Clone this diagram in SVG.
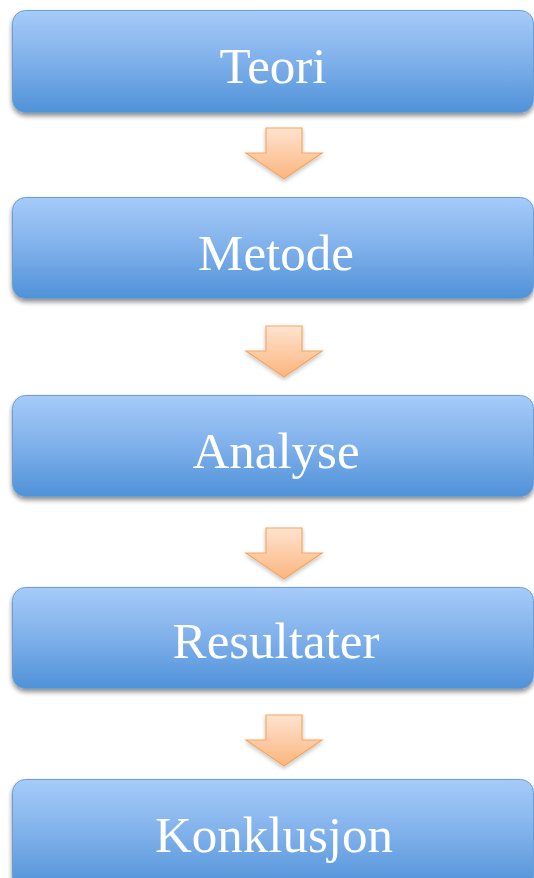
<svg xmlns="http://www.w3.org/2000/svg" width="534" height="878" viewBox="0 0 534 878">
<defs>
<linearGradient id="boxg" x1="0" y1="0" x2="0" y2="1">
<stop offset="0" stop-color="#a6cbf9"/>
<stop offset="0.5" stop-color="#7fb0ea"/>
<stop offset="1" stop-color="#4f92d8"/>
</linearGradient>
<linearGradient id="arrg" x1="0" y1="0" x2="0" y2="1">
<stop offset="0" stop-color="#fee3cf"/>
<stop offset="1" stop-color="#fbb57e"/>
</linearGradient>
<filter id="sh" x="-10%" y="-10%" width="120%" height="130%">
<feGaussianBlur in="SourceAlpha" stdDeviation="2.5"/>
<feOffset dx="0" dy="3" result="b"/>
<feComponentTransfer><feFuncA type="linear" slope="0.45"/></feComponentTransfer>
<feMerge><feMergeNode/><feMergeNode in="SourceGraphic"/></feMerge>
</filter>
<filter id="ash" x="-20%" y="-20%" width="140%" height="150%">
<feGaussianBlur in="SourceAlpha" stdDeviation="2"/>
<feOffset dx="0" dy="2" result="b"/>
<feComponentTransfer><feFuncA type="linear" slope="0.25"/></feComponentTransfer>
<feMerge><feMergeNode/><feMergeNode in="SourceGraphic"/></feMerge>
</filter>
<path id="arrow" d="M266,0 H302 V25 H322 L284,51 L246,25 H266 Z"/>
</defs>
<style>
.box{fill:url(#boxg);stroke:#6b9fd6;stroke-width:1;filter:url(#sh)}
.lbl{font-family:"Liberation Serif","Times New Roman",serif;font-size:51px;fill:#ffffff;text-anchor:middle}
.arr{fill:url(#arrg);stroke:#f5a765;stroke-width:1.2;filter:url(#ash)}
</style>
<g id="connectors">
<use href="#arrow" class="arr" transform="translate(0,128)"/>
<use href="#arrow" class="arr" transform="translate(0,326)"/>
<use href="#arrow" class="arr" transform="translate(0,528)"/>
<use href="#arrow" class="arr" transform="translate(0,715)"/>
</g>
<g id="teori">
<rect class="box" x="12.5" y="10.5" width="521" height="102" rx="13"/>
<text class="lbl" x="273" y="83">Teori</text>
</g>
<g id="metode">
<rect class="box" x="12.5" y="197.5" width="521" height="101" rx="13"/>
<text class="lbl" x="276" y="270">Metode</text>
</g>
<g id="analyse">
<rect class="box" x="12.5" y="395.5" width="521" height="101" rx="13"/>
<text class="lbl" x="276" y="468">Analyse</text>
</g>
<g id="resultater">
<rect class="box" x="12.5" y="587.5" width="521" height="101" rx="13"/>
<text class="lbl" x="276" y="658">Resultater</text>
</g>
<g id="konklusjon">
<rect class="box" x="12.5" y="779.5" width="521" height="110" rx="13"/>
<text class="lbl" x="274" y="852">Konklusjon</text>
</g>
</svg>
